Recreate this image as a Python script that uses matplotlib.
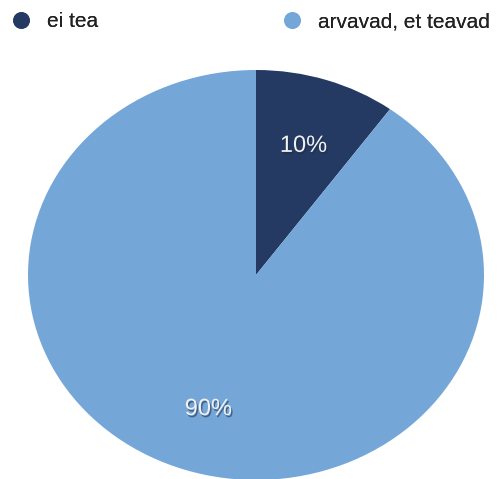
import matplotlib.pyplot as plt
import matplotlib.patheffects as pe
from matplotlib.lines import Line2D

labels = ["ei tea", "arvavad, et teavad"]
shares = [10, 90]
colors = ["#243a63", "#74a7d8"]

plt.rcParams['font.family'] = ['Liberation Sans', 'DejaVu Sans']

W, H = 499, 479
fig = plt.figure(figsize=(W / 100, H / 100), dpi=100)
ax = fig.add_axes([0, 0, 1, 1])

wedges, texts, autotexts = ax.pie(
    shares, colors=colors, startangle=90, counterclock=False,
    autopct="%d%%", pctdistance=0.675, radius=1.0,
    wedgeprops=dict(linewidth=0))

# percentages in white with a soft drop shadow
for t in autotexts:
    t.set_color("#f2f2f2")
    t.set_fontsize(17)
    t.set_va("center_baseline")
    t.set_path_effects([pe.SimplePatchShadow(offset=(1, -1.5), shadow_rgbFace="#1c2a48", alpha=0.55),
                        pe.Normal()])

# stretched pie, centre sits a bit below the middle
ax.set_aspect("auto")
ax.set_xlim(-256 / 228, (W - 256) / 228)
ax.set_ylim(-204 / 205, (H - 204) / 205)
ax.axis("off")

# one legend per entry so each sits at its own spot along the top
legend_x = [11, 282]
for lab, col, x in zip(labels, colors, legend_x):
    h = Line2D([], [], marker="o", linestyle="", markersize=11,
               markerfacecolor=col, markeredgecolor=col)
    leg = fig.legend([h], [lab], loc="upper left", bbox_to_anchor=(x / W, 1 - 12 / H),
                     frameon=False, fontsize=15, handlelength=1.0, handletextpad=0.72,
                     borderpad=0, borderaxespad=0, labelcolor="#222222")
    fig.add_artist(leg)

fig.savefig("out.png", dpi=100)
